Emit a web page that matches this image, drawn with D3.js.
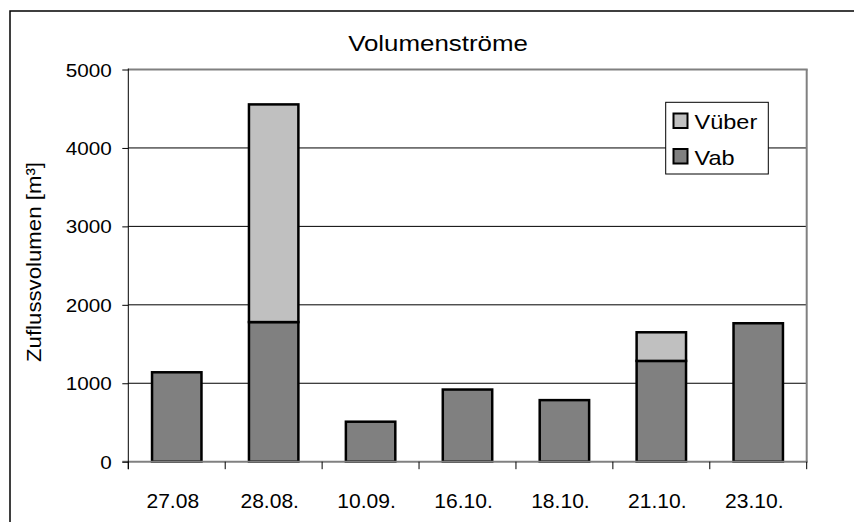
<!DOCTYPE html>
<html>
<head>
<meta charset="utf-8">
<script src="https://cdn.jsdelivr.net/npm/d3@7"></script>
<style>
  html, body { margin: 0; padding: 0; background: #fff; }
  svg { display: block; font-family: "Liberation Sans", Arial, sans-serif; }
</style>
</head>
<body>
<svg id="chart" width="854" height="522"></svg>
<script>
const categories = ["27.08", "28.08.", "10.09.", "16.10.", "18.10.", "21.10.", "23.10."];
const vab = [1140, 1780, 510, 920, 785, 1285, 1765];
const vueber = [0, 2775, 0, 0, 0, 365, 0];
const yTicks = [0, 1000, 2000, 3000, 4000, 5000];
const seriesNames = ["Vab", "Vüber"];
const seriesColors = ["#808080", "#c0c0c0"];
const titleText = "Volumenströme";
const yTitle = "Zuflussvolumen [m³]";

const svg = d3.select("#chart");
const plot = { left: 128.3, right: 806.7, top: 69.5, bottom: 461.7 };

const x = d3.scaleBand().domain(categories).range([plot.left, plot.right])
  .paddingInner(0.49).paddingOuter(0.245);
const y = d3.scaleLinear().domain([0, 5000]).range([plot.bottom, plot.top]);

// outer border (only top and left visible)
svg.append("rect").attr("x", 10).attr("y", 11).attr("width", 900).attr("height", 600)
  .attr("fill", "none").attr("stroke", "#000").attr("stroke-width", 1.5);

function stext(g, xPos, yPos, str, size, sx, anchor) {
  return g.append("text")
    .attr("transform", `translate(${xPos},${yPos}) scale(${sx},1)`)
    .attr("text-anchor", anchor || "middle")
    .attr("font-size", size)
    .attr("fill", "#000")
    .text(str);
}

// title
stext(svg, 438, 50.5, titleText, 22.5, 1.15, "middle");

// gridlines
svg.append("g").selectAll("line").data(yTicks.filter(d => d > 0 && d < 5000)).join("line")
  .attr("x1", plot.left).attr("x2", plot.right)
  .attr("y1", d => y(d)).attr("y2", d => y(d))
  .attr("stroke", "#000").attr("stroke-width", 1);

// top and right borders of plot area (gray)
svg.append("line").attr("x1", plot.left).attr("x2", plot.right + 1)
  .attr("y1", y(5000)).attr("y2", y(5000)).attr("stroke", "#808080").attr("stroke-width", 2);
svg.append("line").attr("x1", plot.right).attr("x2", plot.right)
  .attr("y1", y(5000)).attr("y2", y(0)).attr("stroke", "#808080").attr("stroke-width", 2);

// stacked bars
const data = categories.map((c, i) => ({ cat: c, Vab: vab[i], "Vüber": vueber[i] }));
const stack = d3.stack().keys(seriesNames)(data);
const barG = svg.append("g");
stack.forEach((layer, li) => {
  barG.selectAll(null).data(layer.filter(d => d[1] - d[0] > 0)).join("rect")
    .attr("x", d => x(d.data.cat))
    .attr("width", x.bandwidth())
    .attr("y", d => y(d[1]))
    .attr("height", d => y(d[0]) - y(d[1]))
    .attr("fill", seriesColors[li])
    .attr("stroke", "#000")
    .attr("stroke-width", 2.5);
});

// bottom axis line (gray)
svg.append("line").attr("x1", plot.left - 6).attr("x2", plot.right + 1)
  .attr("y1", y(0)).attr("y2", y(0)).attr("stroke", "#808080").attr("stroke-width", 2);

// x ticks at band boundaries
const boundaries = categories.map(c => x(c) - x.step() * x.paddingOuter()).concat([plot.right]);
svg.append("g").selectAll("line").data(boundaries).join("line")
  .attr("x1", d => d).attr("x2", d => d)
  .attr("y1", y(0)).attr("y2", y(0) + 7.5)
  .attr("stroke", "#000").attr("stroke-width", 1);

// left axis
const yAxis = d3.axisLeft(y).tickValues(yTicks).tickSize(6).tickPadding(10).tickFormat(d3.format("d"));
const yg = svg.append("g").attr("transform", `translate(${plot.left},0)`).call(yAxis);
yg.select(".domain").remove();
yg.selectAll(".tick line").attr("stroke", "#000");
yg.selectAll(".tick text").remove();
yg.selectAll(".tick").each(function(d) {
  stext(d3.select(this), -16.5, 6.5, d3.format("d")(d), 18, 1.15, "end");
});
svg.append("line").attr("x1", plot.left).attr("x2", plot.left)
  .attr("y1", y(5000) - 1).attr("y2", y(0) + 7.5).attr("stroke", "#000").attr("stroke-width", 1);

// x labels
categories.forEach(c => {
  stext(svg, x(c) + x.bandwidth() / 2 - 4, 507.5, c, 19.5, 1.08, "middle");
});

// y title
svg.append("text")
  .attr("transform", `translate(40.5,262) rotate(-90)`)
  .attr("text-anchor", "middle")
  .attr("font-size", 20.5)
  .attr("textLength", 200)
  .attr("lengthAdjust", "spacingAndGlyphs")
  .text(yTitle);

// legend
const lg = svg.append("g");
lg.append("rect").attr("x", 665.7).attr("y", 102.3).attr("width", 102.6).attr("height", 71.7)
  .attr("fill", "#fff").attr("stroke", "#000").attr("stroke-width", 1);
const legendItems = [{ name: "Vüber", color: seriesColors[1], yy: 121 },
                     { name: "Vab", color: seriesColors[0], yy: 156.5 }];
legendItems.forEach(it => {
  lg.append("rect").attr("x", 673.5).attr("y", it.yy - 7.5).attr("width", 14).attr("height", 14.5)
    .attr("fill", it.color).attr("stroke", "#000").attr("stroke-width", 2);
  stext(lg, 694.5, it.yy + 8, it.name, 21, 1.12, "start");
});
</script>
</body>
</html>
